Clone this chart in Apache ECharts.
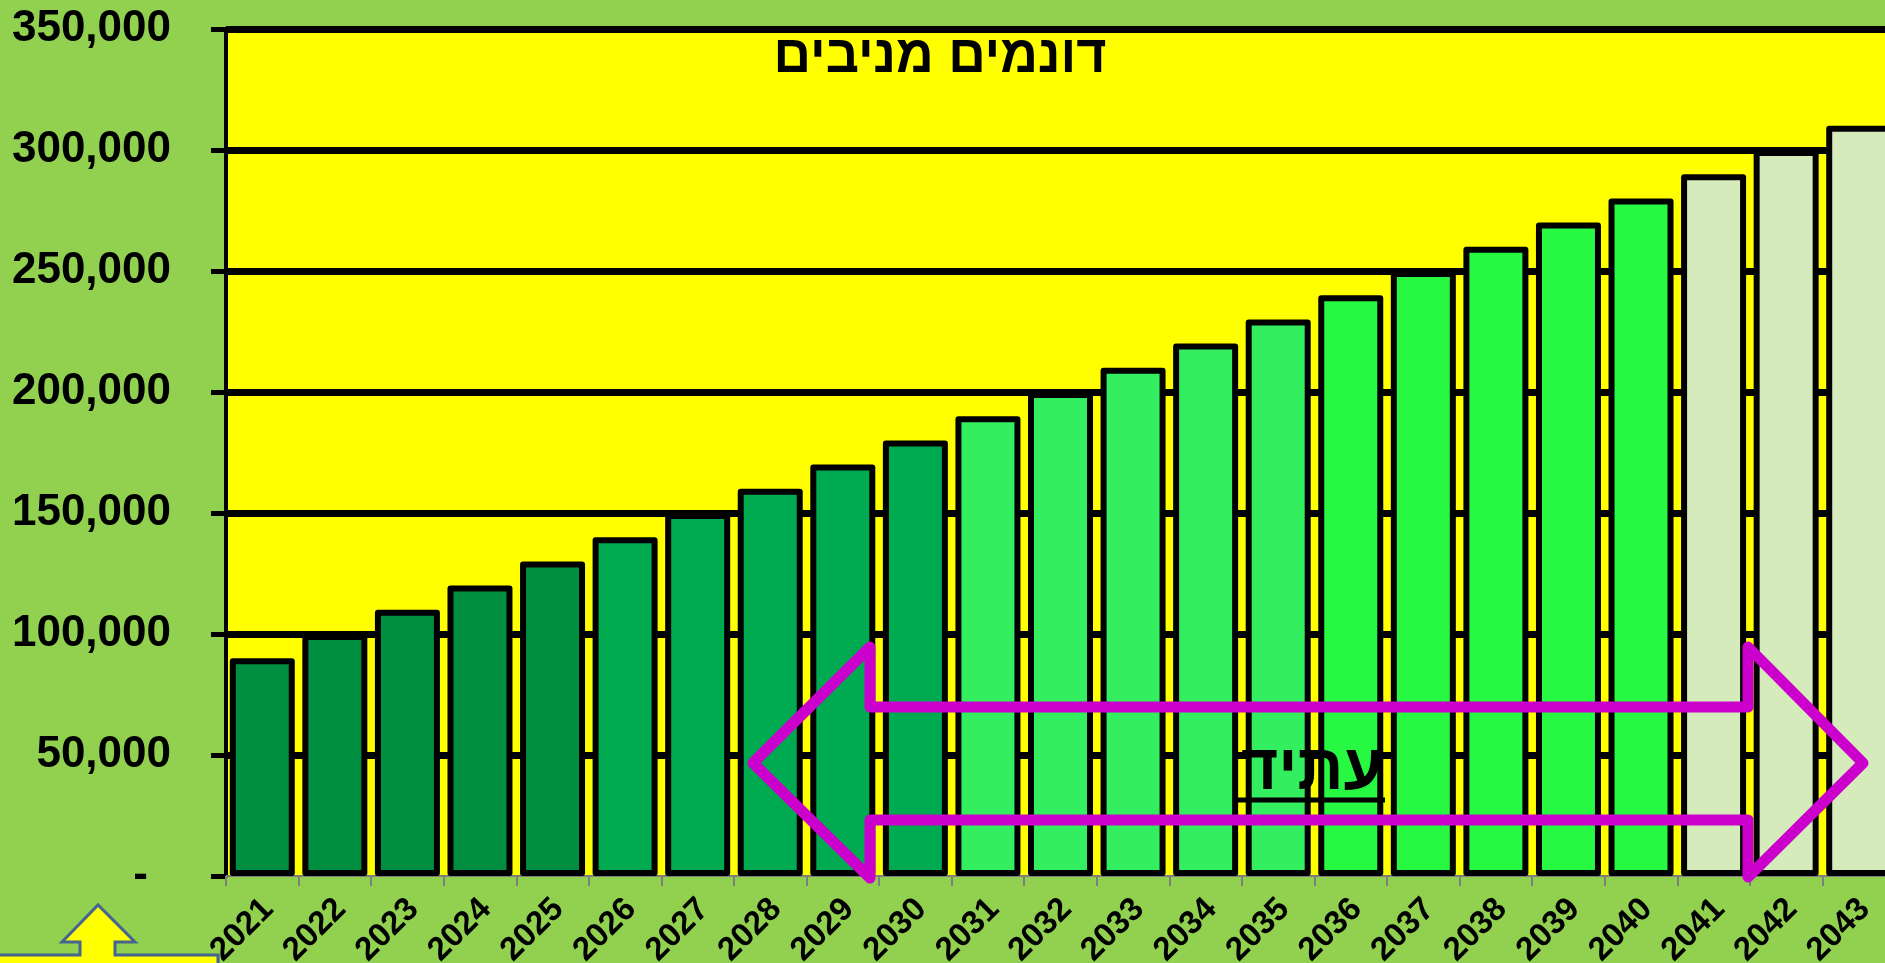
<!DOCTYPE html>
<html>
<head>
<meta charset="utf-8">
<script src="https://cdn.jsdelivr.net/npm/echarts@6/dist/echarts.min.js"></script>
<style>
html,body{margin:0;padding:0;background:#92D050;}
#chart{width:1885px;height:963px;}
</style>
</head>
<body>
<div id="chart"></div>
<script>
// ---- data ----
const years = ['2021','2022','2023','2024','2025','2026','2027','2028','2029','2030','2031','2032','2033','2034','2035','2036','2037','2038','2039','2040','2041','2042','2043'];
const dunams = [90000,100000,110000,120000,130000,140000,150000,160000,170000,180000,190000,200000,210000,220000,230000,240000,250000,260000,270000,280000,290000,300000,310000];
const yMin = 0, yMax = 350000, yStep = 50000;
const titleText = 'דונמים מניבים';
const futureText = 'עתיד';

// ---- styles ----
function barColor(year) {
  const y = +year;
  if (y <= 2025) return '#008E40';
  if (y <= 2030) return '#00AA50';
  if (y <= 2035) return '#33EF60';
  if (y <= 2040) return '#27F842';
  return '#D5EBBC';
}
const FONT = '"Liberation Sans", "DejaVu Sans", Arial, sans-serif';
const magenta = '#CC00CC';

const chart = echarts.init(document.getElementById('chart'), null, {renderer: 'canvas'});

const option = {
  backgroundColor: '#92D050',
  animation: false,
  grid: {
    left: 226, top: 29, width: 1669, height: 847,
    containLabel: false, outerBoundsMode: 'none',
    show: true, backgroundColor: '#FFFF00', borderWidth: 0
  },
  xAxis: {
    type: 'category',
    data: years,
    axisLine: {show: true, lineStyle: {color: '#7F7F7F', width: 2}},
    axisTick: {show: true, length: 10, lineStyle: {color: '#7F7F7F', width: 2}},
    axisLabel: {
      interval: 0, rotate: 45, margin: 22,
      align: 'right', verticalAlign: 'top', lineHeight: 17,
      color: '#000', fontFamily: FONT, fontWeight: 'bold', fontSize: 33
    },
    splitLine: {show: false}
  },
  yAxis: {
    type: 'value',
    min: yMin, max: yMax, interval: yStep,
    axisLine: {show: true, lineStyle: {color: '#000', width: 4}},
    axisTick: {show: true, length: 15, lineStyle: {color: '#000', width: 5}},
    axisLabel: {
      margin: 55, color: '#000', fontFamily: FONT, fontWeight: 'bold', fontSize: 44,
      formatter: v => v === 0 ? '{d|-}' : v.toLocaleString('en-US'),
      rich: {d: {fontFamily: FONT, fontWeight: 'bold', fontSize: 44, color: '#000', padding: [0, 23, 0, 0]}}
    },
    splitLine: {show: true, showMinLine: false, lineStyle: {color: '#000', width: 7}}
  },
  series: [{
    type: 'bar',
    barWidth: 65,
    data: dunams.map((v, i) => ({value: v, itemStyle: {color: barColor(years[i])}})),
    itemStyle: {borderColor: '#000', borderWidth: 6, borderJoin: 'round'},
    emphasis: {disabled: true}
  }],
  graphic: [
    {
      type: 'text', x: 940, y: 58, z: 50,
      style: {text: titleText, textAlign: 'center', textVerticalAlign: 'middle',
        font: 'bold 52px ' + FONT, fill: '#000'}
    },
    {
      type: 'polygon', z: 40,
      shape: {points: [[753,763],[870,647],[870,707],[1748,707],[1748,647],[1863,763],[1748,877],[1748,820],[870,820],[870,878]]},
      style: {fill: 'none', stroke: magenta, lineWidth: 11, lineJoin: 'round'}
    },
    {
      type: 'text', x: 1383, y: 771, z: 50,
      style: {text: futureText, textAlign: 'right', textVerticalAlign: 'middle',
        font: 'bold 64px ' + FONT, fill: '#000'}
    },
    {
      type: 'line', z: 50,
      shape: {x1: 1235, y1: 800, x2: 1385, y2: 800},
      style: {stroke: '#000', lineWidth: 5}
    },
    {
      type: 'polygon', z: 40,
      shape: {points: [[-5,955],[80,955],[80,942],[62,942],[98,905],[135,942],[115,942],[115,955],[218,955],[218,975],[-5,975]]},
      style: {fill: '#FFFF00', stroke: '#44658F', lineWidth: 3}
    }
  ]
};
chart.setOption(option);
</script>
</body>
</html>
